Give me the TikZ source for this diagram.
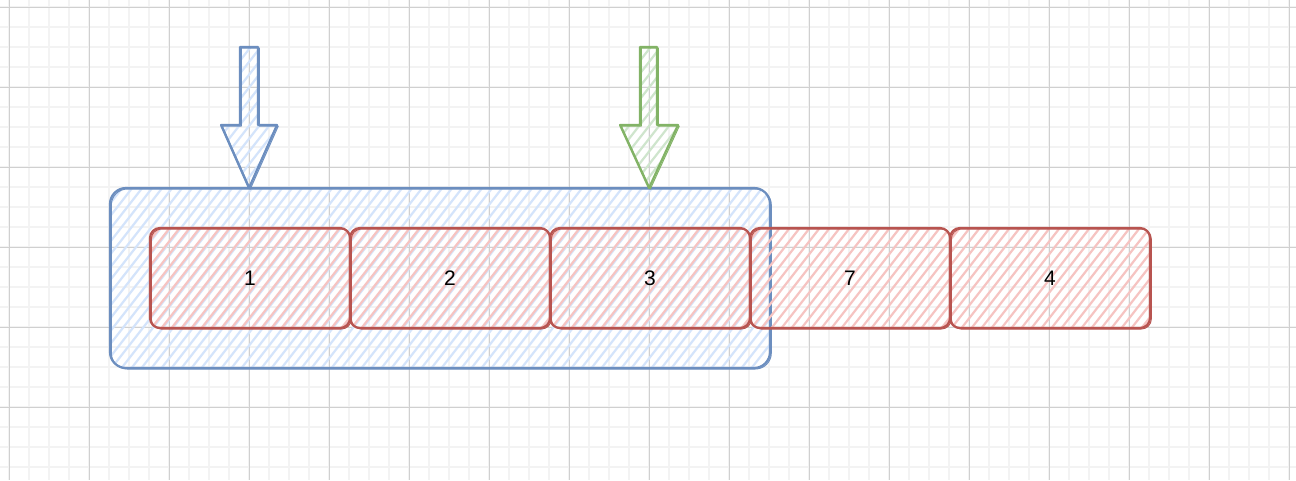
\documentclass[tikz,border=0pt]{standalone}
\usepackage{fontspec}
\setmainfont{Liberation Sans}
\usetikzlibrary{calc}
\definecolor{bluefill}{HTML}{D4E4FB}
\definecolor{bluestroke}{HTML}{6C8EBF}
\definecolor{redfill}{HTML}{F6C4C2}
\definecolor{redstroke}{HTML}{B85450}
\definecolor{greenfill}{HTML}{CFE5CD}
\definecolor{greenstroke}{HTML}{82B366}
\definecolor{gridminor}{HTML}{F3F3F3}
\definecolor{gridmajor}{HTML}{D0D0D0}
\tikzset{
  hachure/.style={path picture={
      \foreach \k in {-50,...,50}{
        \draw[#1, line width=2.2pt] ($(path picture bounding box.south)+(\k*10pt,-2pt)$) -- ++(52:420pt);
      }}},
  sketch/.style={draw=#1, line width=2.2pt,
      postaction={draw=#1, line width=1pt, transform canvas={shift={(1.3pt,-1pt)}}}},
  cell/.style={hachure=redfill, sketch=redstroke, rounded corners=10pt,
      minimum width=200pt, minimum height=100pt, inner sep=0pt, outer sep=0pt,
      font=\fontsize{21}{25}\selectfont, text=black},
  group/.style={hachure=bluefill, sketch=bluestroke, rounded corners=16pt,
      minimum width=660pt, minimum height=180pt, inner sep=0pt, outer sep=0pt},
}
\begin{document}
\begin{tikzpicture}[x=1pt,y=-1pt]
\useasboundingbox (0,0) rectangle (1296,480);
\fill[white] (0,0) rectangle (1296,480);
% grid
\foreach \x in {9,29,...,1289} \draw[gridminor, line width=1.6pt] (\x,0) -- (\x,480);
\foreach \y in {7,27,...,467} \draw[gridminor, line width=1.6pt] (0,\y) -- (1296,\y);
\foreach \x in {9,89,...,1289} \draw[gridmajor, line width=1pt] (\x,0) -- (\x,480);
\foreach \y in {7,87,...,407} \draw[gridmajor, line width=1pt] (0,\y) -- (1296,\y);
% container
\node[group] (grp) at (440,278) {};
% cells
\node[cell] (c1) at (250,278) {1};
\node[cell] (c2) at (450,278) {2};
\node[cell] (c3) at (650,278) {3};
\node[cell] (c7) at (850,278) {7};
\node[cell] (c4) at (1050,278) {4};
% block arrows
\coordinate (tipA) at (249,188);
\coordinate (tipB) at (649,188);
\draw[hachure=bluefill, sketch=bluestroke, line join=round]
  ($(tipA)+(-9,-141)$) -- ++(18,0) -- ++(0,78) -- ++(19,0) -- (tipA)
  -- ($(tipA)+(-28,-63)$) -- ++(19,0) -- cycle;
\draw[hachure=greenfill, sketch=greenstroke, line join=round]
  ($(tipB)+(-9,-141)$) -- ++(17,0) -- ++(0,78) -- ++(21,0) -- (tipB)
  -- ($(tipB)+(-29,-63)$) -- ++(20,0) -- cycle;
\end{tikzpicture}
\end{document}
